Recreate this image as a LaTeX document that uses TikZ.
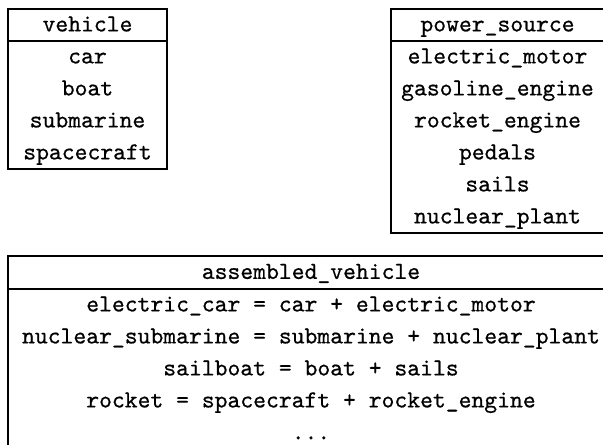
\documentclass[tikz,border=0pt]{standalone}
\usetikzlibrary{positioning}

\font\tabfont="[lmmono10-regular]:embolden=0.6" at 12.23pt
\newcommand\tabtext{\tabfont\baselineskip=16pt\relax}
\newcommand\rowstrut{\rule[-4.8pt]{0pt}{16pt}}

\begin{document}
\begin{tikzpicture}[
  x=0.5pt, y=-0.5pt,
  every node/.style={inner sep=0pt, outer sep=0pt, font=\tabtext},
  head/.style={draw, line width=0.6pt, minimum height=16pt,
    text height=11.2pt, text depth=4.8pt},
  rows/.style={draw, line width=0.6pt, align=center}]

  % the picture is cut at its right and bottom edge
  \path[use as bounding box, clip] (0,0) rectangle (603,444);

  % ---- vehicle ------------------------------------------------------------
  \node[head, minimum width=79.5pt, anchor=north west] (veh) at (8,9) {vehicle};
  \node[rows, minimum width=79.5pt, minimum height=64pt, below=0pt of veh] (vehrows)
    {\rowstrut car\\\rowstrut boat\\\rowstrut submarine\\\rowstrut spacecraft};

  % ---- power_source -------------------------------------------------------
  \node[head, minimum width=106.5pt, anchor=north west] (pow) at (391,9) {power\_source};
  \node[rows, minimum width=106.5pt, minimum height=96pt, below=0pt of pow] (powrows)
    {\rowstrut electric\_motor\\\rowstrut gasoline\_engine\\\rowstrut rocket\_engine\\
     \rowstrut pedals\\\rowstrut sails\\\rowstrut nuclear\_plant};

  % ---- assembled_vehicle --------------------------------------------------
  \node[head, minimum width=303pt, minimum height=16.5pt, anchor=north west] (asm) at (8,256)
    {assembled\_vehicle};
  \node[rows, minimum width=303pt, minimum height=80pt, below=0pt of asm] (asmrows)
    {\rowstrut electric\_car = car + electric\_motor\\
     \rowstrut nuclear\_submarine = submarine + nuclear\_plant\\
     \rowstrut sailboat = boat + sails\\
     \rowstrut rocket = spacecraft + rocket\_engine\\
     \rowstrut ...};
\end{tikzpicture}
\end{document}
